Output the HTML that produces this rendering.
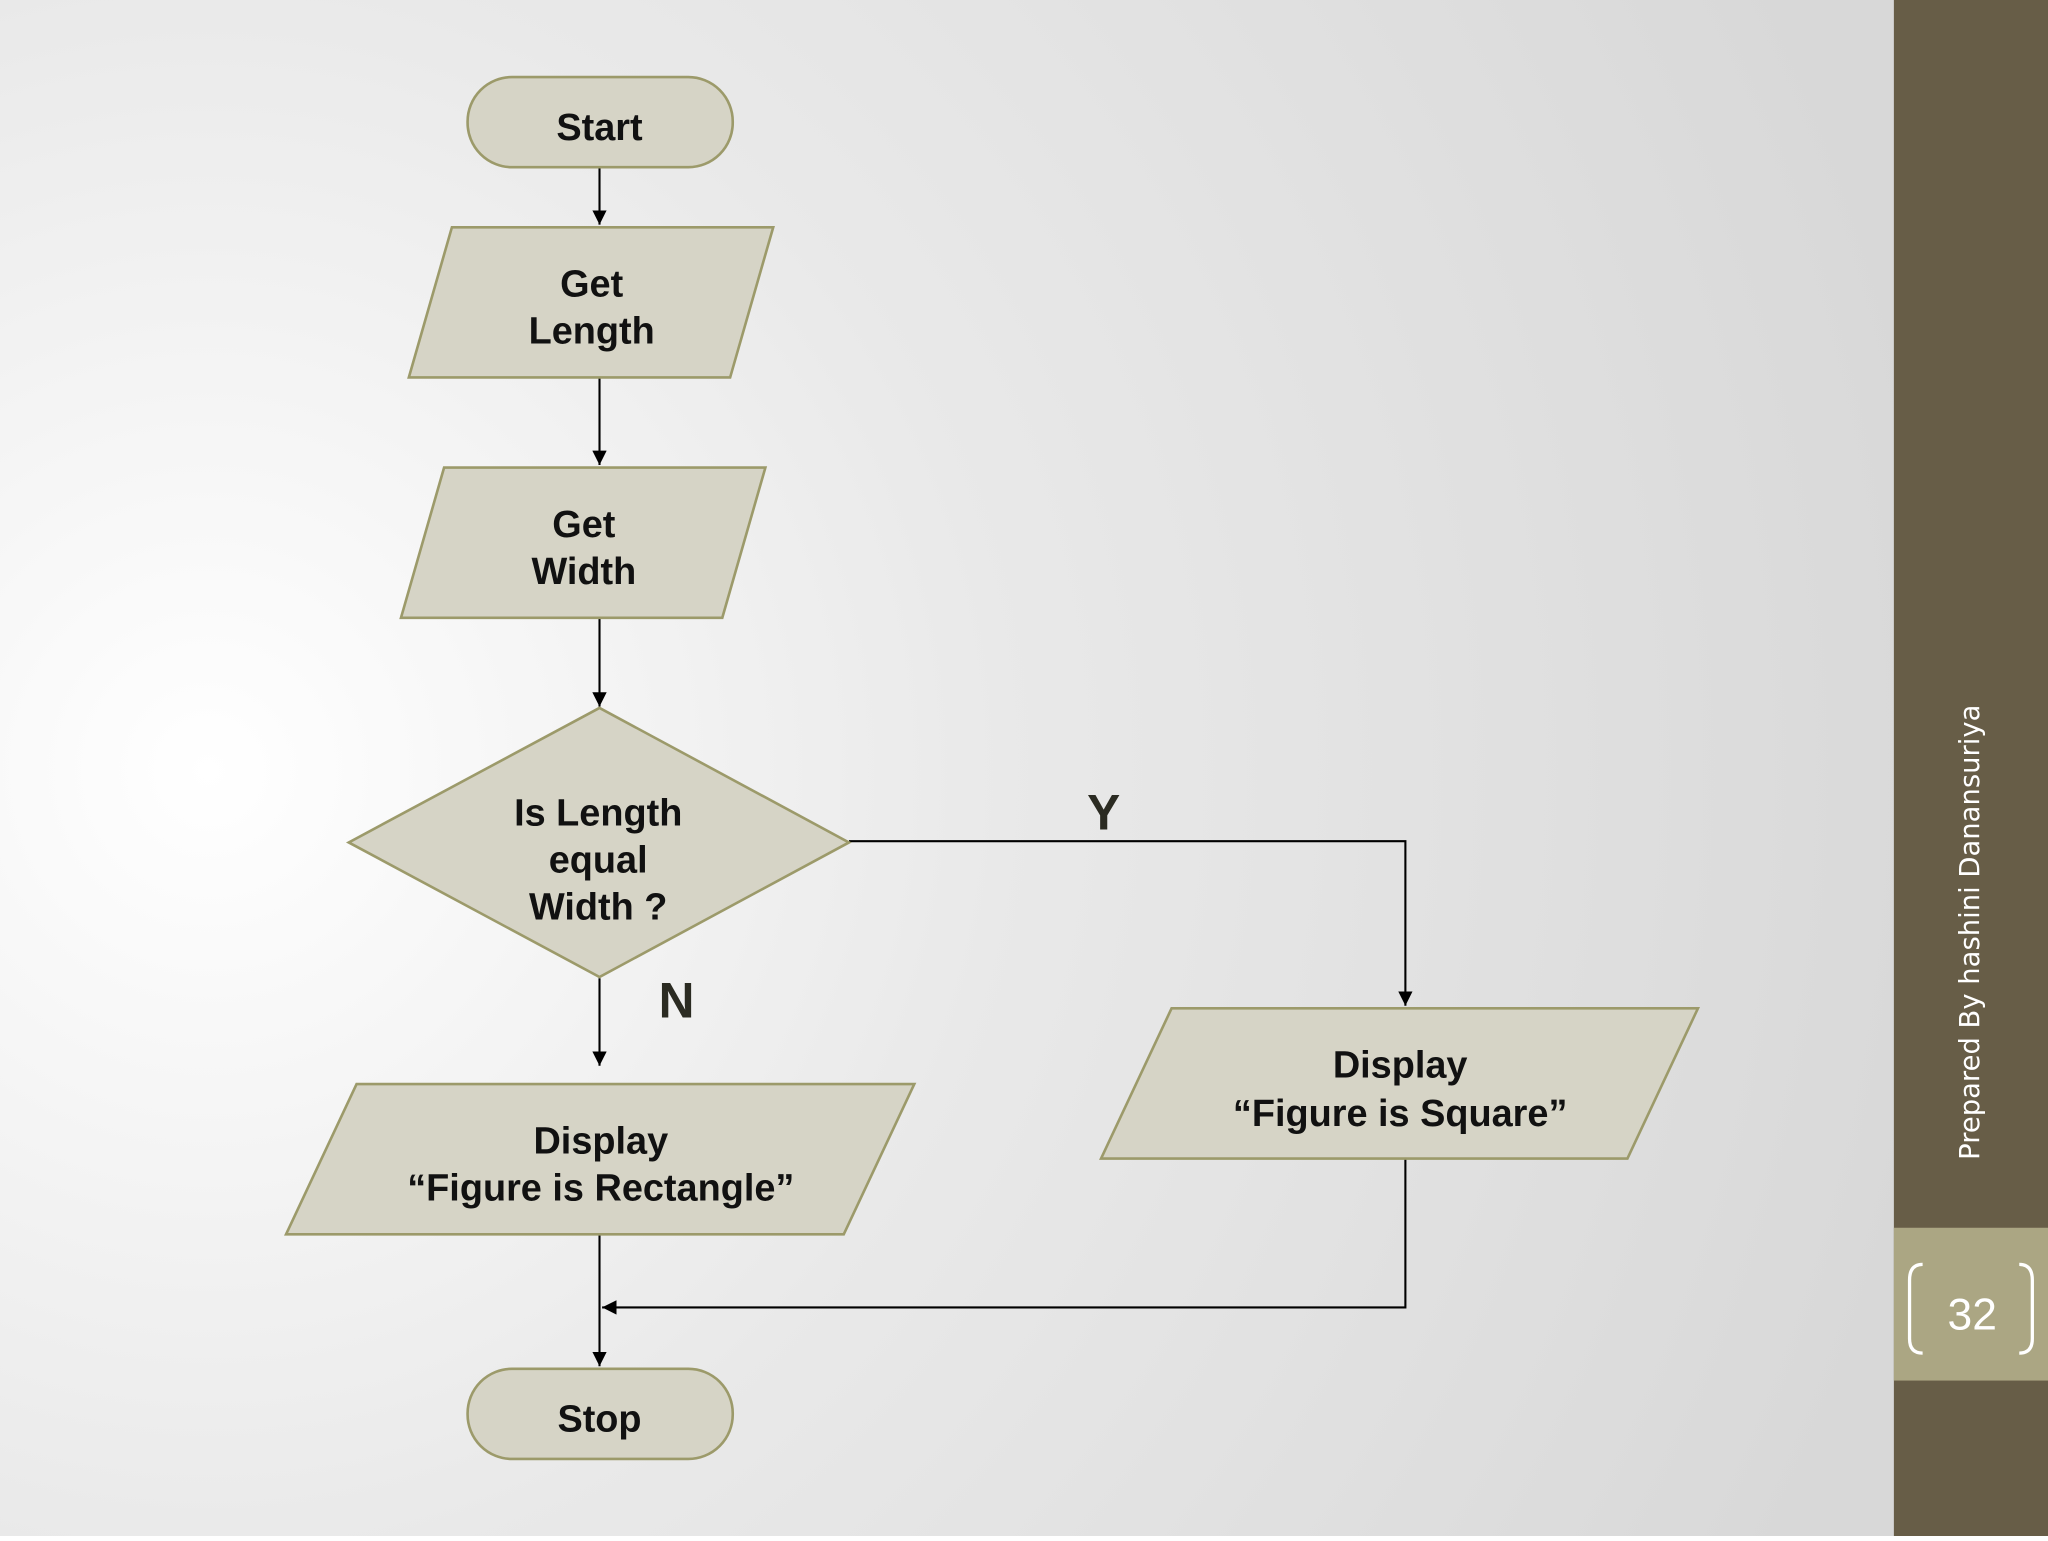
<!DOCTYPE html>
<html><head><style>html,body{margin:0;padding:0;}body{width:2048px;height:1536px;overflow:hidden;}</style></head>
<body>
<svg width="2048" height="1536" viewBox="0 0 1568 1176" xmlns="http://www.w3.org/2000/svg" font-family="Liberation Sans, Arial, sans-serif">
<defs>
<radialGradient id="bg" cx="160" cy="590" r="1350" gradientUnits="userSpaceOnUse">
<stop offset="0" stop-color="#ffffff"/><stop offset="0.45" stop-color="#e9e9e9"/><stop offset="1" stop-color="#d8d8d8"/>
</radialGradient>
<marker id="ar" viewBox="0 0 10 10" refX="10" refY="5" markerWidth="11" markerHeight="11" markerUnits="userSpaceOnUse" orient="auto"><path d="M0,0L10,5L0,10z" fill="#000"/></marker>
</defs>
<rect width="1568" height="1176" fill="url(#bg)"/>
<rect x="1450" y="0" width="118" height="1176" fill="#675d47"/>
<rect x="1450" y="940" width="118" height="117" fill="#aba683"/>
<path d="M1472,968 Q1462,968 1462,980 L1462,1025 Q1462,1036 1472,1036" fill="none" stroke="#fff" stroke-width="2.5"/>
<path d="M1546,968 Q1556,968 1556,980 L1556,1025 Q1556,1036 1546,1036" fill="none" stroke="#fff" stroke-width="2.5"/>
<text x="1510" y="1018" font-size="34" fill="#fff" text-anchor="middle">32</text>
<text transform="translate(1515,888) rotate(-90)" font-size="21" fill="#fff" font-family="DejaVu Sans, sans-serif">Prepared By hashini Danansuriya</text>
<g stroke="#000" stroke-width="1.6" fill="none">
<line x1="459" y1="128" x2="459" y2="172" marker-end="url(#ar)"/>
<line x1="459" y1="289" x2="459" y2="356" marker-end="url(#ar)"/>
<line x1="459" y1="473" x2="459" y2="541" marker-end="url(#ar)"/>
<line x1="459" y1="749" x2="459" y2="816" marker-end="url(#ar)"/>
<line x1="459" y1="945" x2="459" y2="1046" marker-end="url(#ar)"/>
<polyline points="650,644 1076,644 1076,770" marker-end="url(#ar)"/>
<polyline points="1076,887 1076,1001 461,1001" marker-end="url(#ar)"/>
</g>
<g fill="#d6d4c6" stroke="#9c9a6a" stroke-width="2">
<rect x="358" y="59" width="203" height="69" rx="34"/>
<polygon points="346,174 592,174 559,289 313,289"/>
<polygon points="340,358 586,358 553,473 307,473"/>
<polygon points="459,542 650,645 459,748 267,645"/>
<polygon points="273,830 700,830 646,945 219,945"/>
<polygon points="897,772 1300,772 1246,887 843,887"/>
<rect x="358" y="1048" width="203" height="69" rx="34"/>
</g>
<g font-size="29" font-weight="bold" fill="#111" text-anchor="middle">
<text x="459" y="107">Start</text>
<text x="453" y="227">Get</text><text x="453" y="263">Length</text>
<text x="447" y="411">Get</text><text x="447" y="447">Width</text>
<text x="458" y="632">Is Length</text><text x="458" y="668">equal</text><text x="458" y="704">Width ?</text>
<text x="460" y="883">Display</text><text x="460" y="919">“Figure is Rectangle”</text>
<text x="1072" y="825">Display</text><text x="1072" y="862">“Figure is Square”</text>
<text x="459" y="1096">Stop</text>
<text x="845" y="635" font-size="38" fill="#2b2b22">Y</text>
<text x="518" y="779" font-size="38" fill="#2b2b22">N</text>
</g>
</svg>
</body></html>
